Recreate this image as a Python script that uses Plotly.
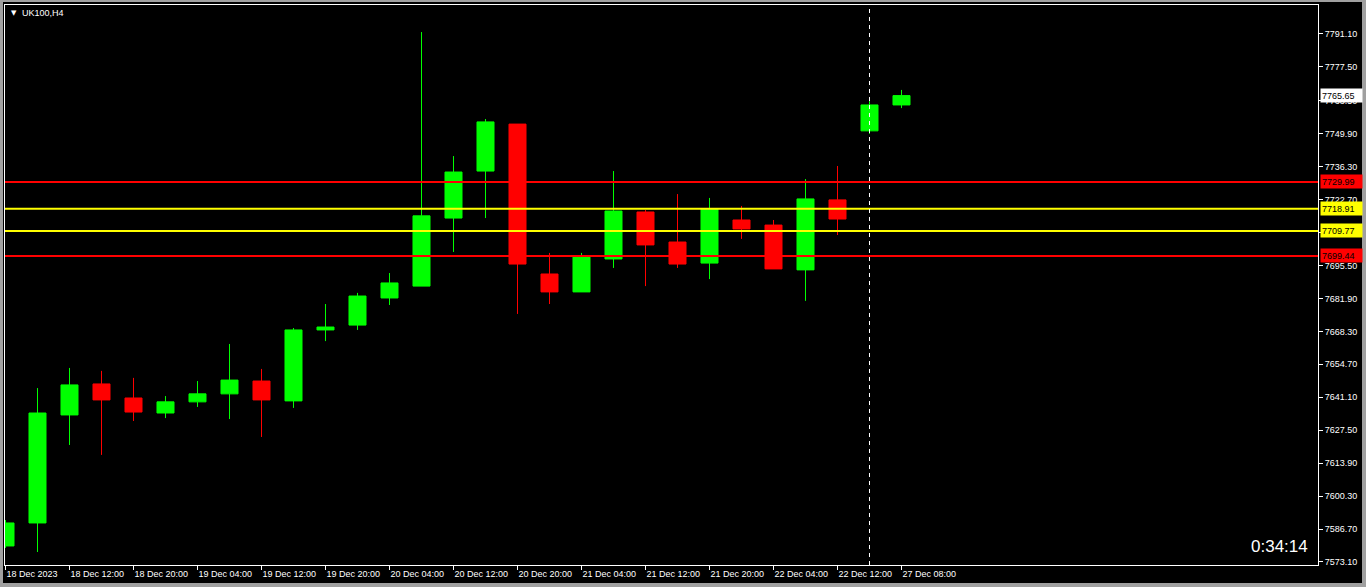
import plotly.graph_objects as go

# ---- data (UK100, H4) ----
bar_index = list(range(29))
open_ = [7579.7, 7589.2, 7633.8, 7646.6, 7640.8, 7634.6, 7639.2, 7642.5, 7647.8, 7639.6,
         7668.9, 7670.9, 7682.1, 7687.0, 7715.1, 7734.5, 7753.9, 7692.0, 7684.6, 7698.2,
         7717.6, 7705.2, 7696.5, 7714.3, 7712.2, 7693.7, 7722.6, 7751.1, 7761.8]
high = [7590.4, 7644.9, 7653.2, 7652.0, 7649.1, 7641.6, 7647.8, 7663.1, 7652.8, 7669.7,
        7679.6, 7684.2, 7692.4, 7791.9, 7740.7, 7756.0, 7753.9, 7700.7, 7700.7, 7734.5,
        7718.4, 7725.0, 7723.4, 7720.1, 7714.3, 7731.2, 7736.6, 7763.4, 7768.0]
low = [7578.9, 7577.2, 7621.4, 7617.3, 7631.3, 7632.5, 7637.1, 7632.1, 7624.7, 7636.7,
       7664.3, 7668.9, 7679.2, 7687.0, 7701.1, 7715.1, 7675.5, 7679.6, 7684.6, 7694.5,
       7687.0, 7694.5, 7689.9, 7706.5, 7694.1, 7680.9, 7708.1, 7749.8, 7760.5]
close = [7589.2, 7634.6, 7646.2, 7640.0, 7635.0, 7639.2, 7642.5, 7648.2, 7640.0, 7668.9,
         7670.1, 7682.9, 7688.3, 7716.0, 7734.1, 7754.8, 7696.1, 7684.6, 7699.4, 7718.0,
         7704.0, 7696.1, 7718.8, 7710.6, 7694.1, 7723.0, 7714.7, 7761.8, 7765.65]

tick_index = [0, 2, 4, 6, 8, 10, 12, 14, 16, 18, 20, 22, 24, 26, 28]
tick_labels = ["18 Dec 2023", "18 Dec 12:00", "18 Dec 20:00", "19 Dec 04:00", "19 Dec 12:00",
               "19 Dec 20:00", "20 Dec 04:00", "20 Dec 12:00", "20 Dec 20:00", "21 Dec 04:00",
               "21 Dec 12:00", "21 Dec 20:00", "22 Dec 04:00", "22 Dec 12:00", "27 Dec 08:00"]

price_ticks = [7573.10, 7586.70, 7600.30, 7613.90, 7627.50, 7641.10, 7654.70, 7668.30, 7681.90,
               7695.50, 7709.10, 7722.70, 7736.30, 7749.90, 7763.50, 7777.50, 7791.10]

red_levels = [7729.99, 7699.44]
yellow_levels = [7718.91, 7709.77]
current_price = 7765.65
separator_bar = 27
symbol_label = "UK100,H4"
timer_text = "0:34:14"

# ---- figure ----
W, H = 1366, 587
L, R, T, B = 5, 48, 5, 22
pw, ph = W - L - R, H - T - B
BAR_PX = 32.0

def px_x(px):
    return (px - L) / pw

def px_y(py):
    return (H - B - py) / ph

FONT = "Liberation Sans"
GREEN = "#00ff00"
RED = "#ff0000"
YELLOW = "#ffff00"

fig = go.Figure()
fig.add_trace(go.Candlestick(
    x=bar_index, open=open_, high=high, low=low, close=close,
    increasing=dict(line=dict(color=GREEN, width=1), fillcolor=GREEN),
    decreasing=dict(line=dict(color=RED, width=1), fillcolor=RED),
    whiskerwidth=0, showlegend=False, hoverinfo="skip",
))

shapes = []
# outer frame: gray window edge, black chart area
shapes.append(dict(type="rect", xref="paper", yref="paper", layer="below",
                   x0=px_x(3), x1=px_x(1362), y0=px_y(583), y1=px_y(2),
                   fillcolor="black", line=dict(width=0)))
for lv in red_levels:
    shapes.append(dict(type="line", xref="paper", yref="y", x0=0, x1=1, y0=lv, y1=lv,
                       line=dict(color=RED, width=2)))
for lv in yellow_levels:
    shapes.append(dict(type="line", xref="paper", yref="y", x0=0, x1=1, y0=lv, y1=lv,
                       line=dict(color=YELLOW, width=2)))
shapes.append(dict(type="line", xref="x", yref="paper", x0=separator_bar, x1=separator_bar,
                   y0=0, y1=1, line=dict(color="white", width=1, dash="4px,4px")))

annotations = []
def tag(val, bg):
    annotations.append(dict(xref="paper", yref="y", x=1, y=val, xanchor="left", yanchor="middle",
                            xshift=2, text=f"{val:.2f}", showarrow=False,
                            font=dict(family=FONT, size=9, color="black"),
                            bgcolor=bg, width=39, height=11, borderpad=1, align="left"))
for lv in red_levels:
    tag(lv, RED)
for lv in yellow_levels:
    tag(lv, YELLOW)
tag(current_price, "white")

annotations.append(dict(xref="paper", yref="paper", x=px_x(9), y=px_y(13), xanchor="left",
                        yanchor="middle", text="▼", showarrow=False,
                        font=dict(family="DejaVu Sans", size=7, color="white")))
annotations.append(dict(xref="paper", yref="paper", x=px_x(20), y=px_y(13), xanchor="left",
                        yanchor="middle", text=symbol_label, showarrow=False,
                        font=dict(family=FONT, size=9, color="white")))
annotations.append(dict(xref="paper", yref="paper", x=px_x(1310), y=px_y(546), xanchor="right",
                        yanchor="middle", text=timer_text, showarrow=False,
                        font=dict(family=FONT, size=17, color="white")))

x0 = -0.5 / BAR_PX
fig.update_layout(
    width=W, height=H,
    margin=dict(l=L, r=R, t=T, b=B, pad=0),
    paper_bgcolor="#a0a0a0", plot_bgcolor="black",
    boxgap=0.24,
    shapes=shapes, annotations=annotations,
    xaxis=dict(range=[x0, x0 + pw / BAR_PX], showgrid=False, zeroline=False,
               rangeslider=dict(visible=False),
               tickmode="array", tickvals=tick_index, ticktext=tick_labels,
               ticks="outside", ticklen=4, tickcolor="white", tickwidth=1,
               ticklabelposition="outside right",
               tickfont=dict(family=FONT, size=9, color="white"),
               showline=True, linecolor="white", linewidth=1, mirror=True),
    yaxis=dict(range=[7571.84, 7803.07], side="right", showgrid=False, zeroline=False,
               tickmode="array", tickvals=price_ticks,
               ticktext=[f"{v:.2f}" for v in price_ticks],
               ticks="outside", ticklen=4, tickcolor="white", tickwidth=1,
               tickfont=dict(family=FONT, size=9, color="white"),
               showline=True, linecolor="white", linewidth=1, mirror=True),
)

fig.write_html("out.html", config={"displayModeBar": False},
               post_script="document.body.style.margin='0';document.body.style.overflow='hidden';")
